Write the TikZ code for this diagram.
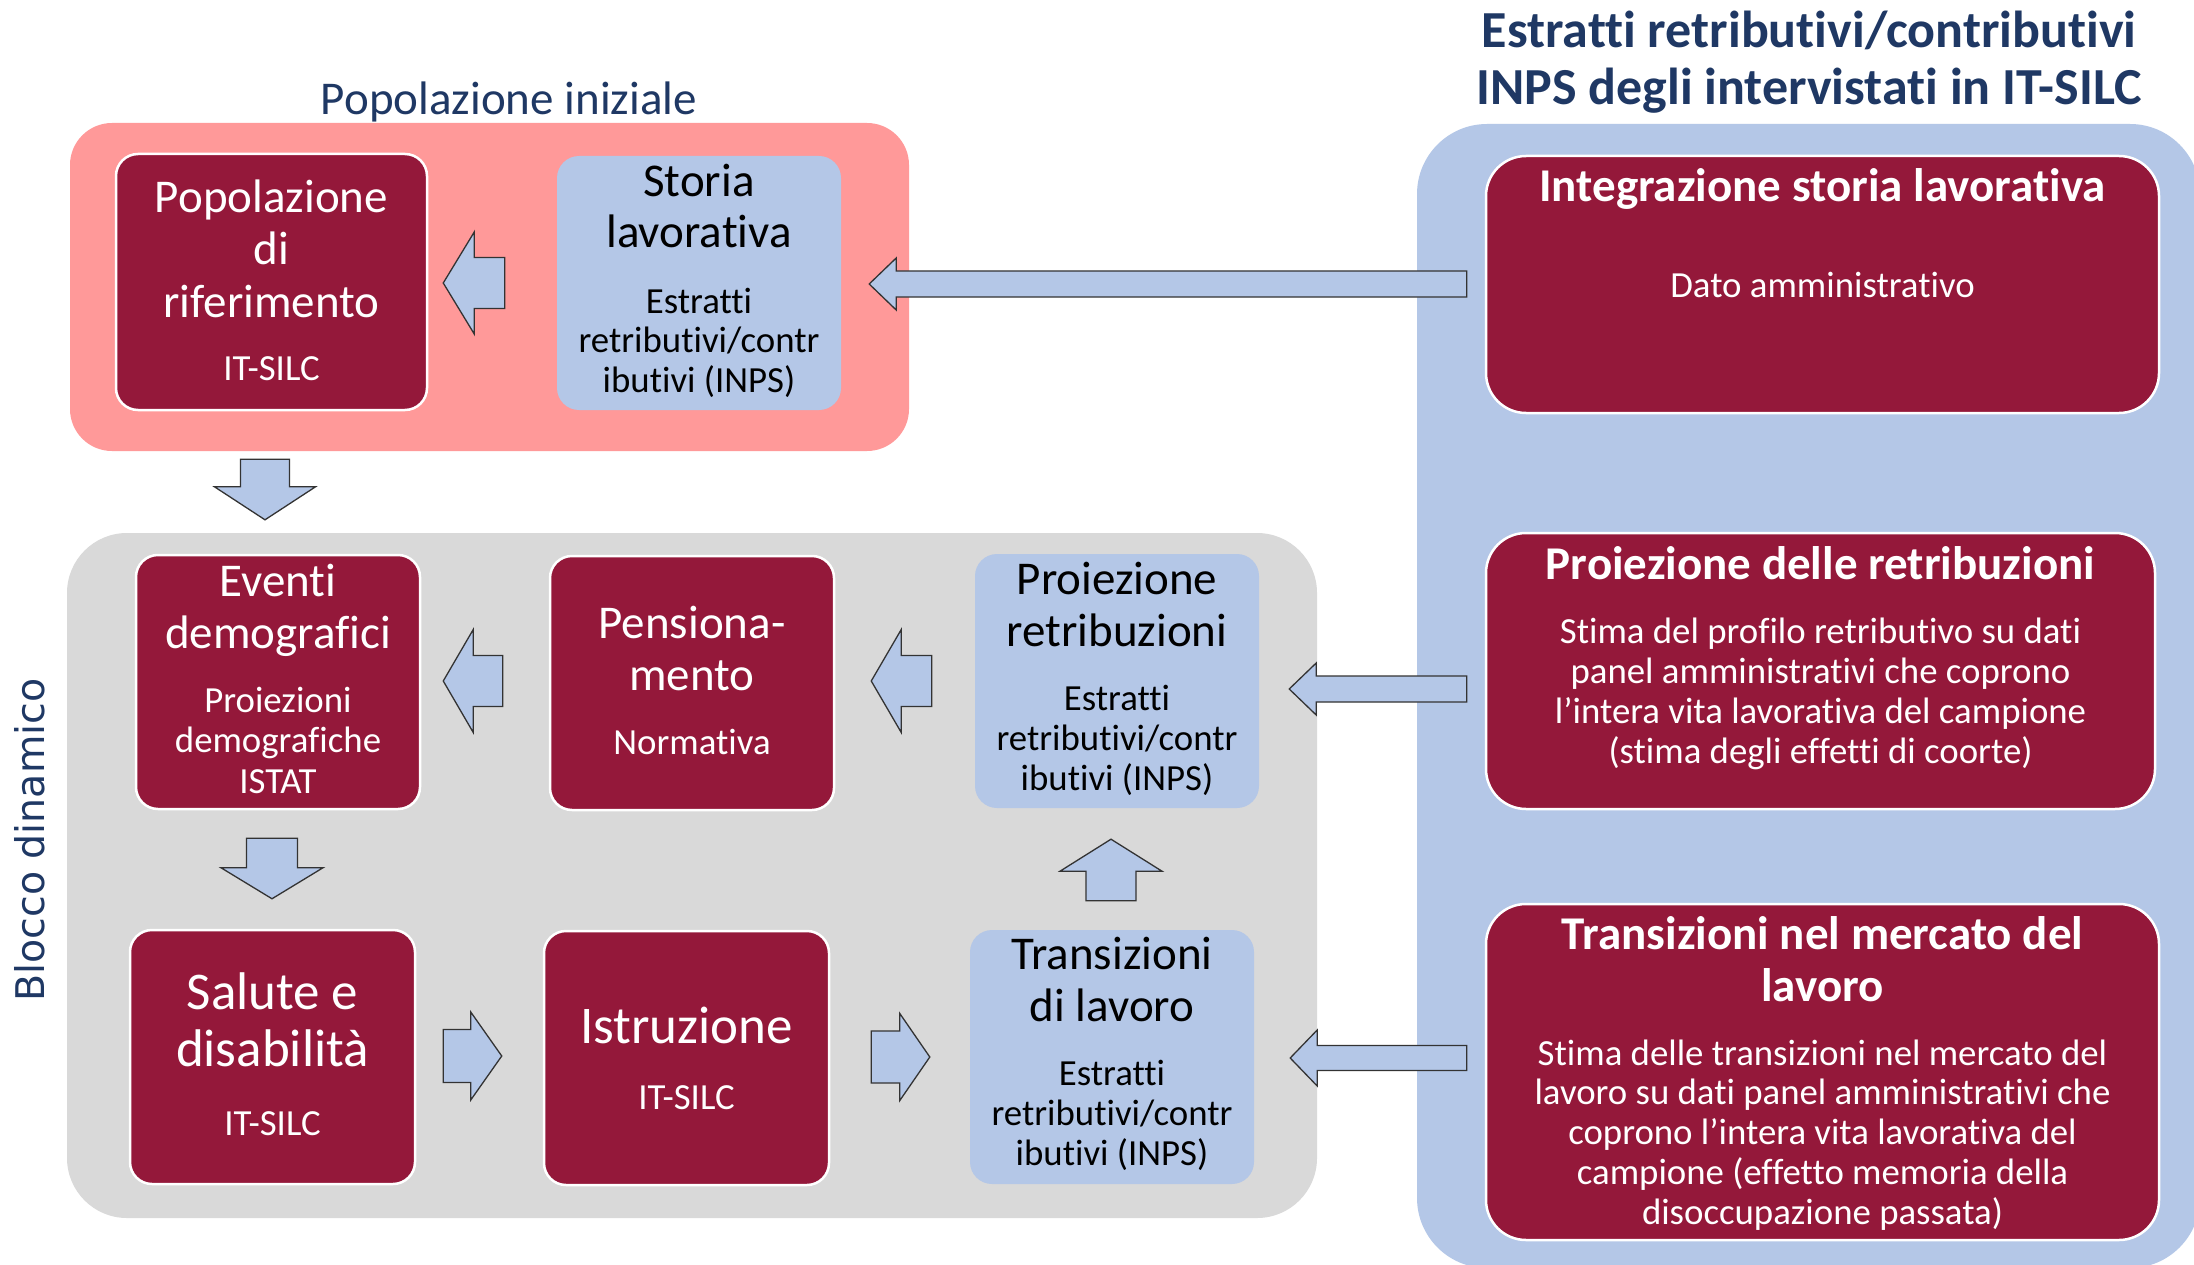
\documentclass[tikz,border=0pt]{standalone}
\usepackage{fontspec}
\setmainfont{Carlito}[Ligatures={NoCommon,NoRequired,NoContextual,NoRare},Contextuals={NoAlternate},RawFeature={-calt}]
\newfontfamily\dejavu{DejaVu Sans}
\usetikzlibrary{calc}
\definecolor{dred}{RGB}{148,24,58}
\definecolor{lblue}{RGB}{180,199,231}
\definecolor{pinkc}{RGB}{255,153,153}
\definecolor{grayc}{RGB}{217,217,217}
\definecolor{dblue}{RGB}{31,56,100}
% lines of text: name, x, first baseline, spacing, style, list
\newcommand\txtlines[6]{\foreach \t [count=\i] in {#6} {\node[#5, anchor=base, inner sep=0pt] (#1-\i) at (#2, {#3+(\i-1)*#4}) {\t};}}
% block arrow: name, tail, tip, shaft half, head half, head length
\newcommand\barrow[6]{%
  \coordinate (#1-t) at (#2);
  \coordinate (#1-p) at (#3);
  \coordinate (#1-h) at ($(#1-p)!#6!(#1-t)$);
  \draw[blockarrow] ($(#1-t)!#4!90:(#1-p)$) -- ($(#1-h)!#4!90:(#1-p)$) -- ($(#1-h)!#5!90:(#1-p)$) -- (#1-p) -- ($(#1-h)!#5!-90:(#1-p)$) -- ($(#1-h)!#4!-90:(#1-p)$) -- ($(#1-t)!#4!-90:(#1-p)$) -- cycle;}
\begin{document}
\begin{tikzpicture}[x=1pt,y=-1pt,
  panel/.style={draw=none, inner sep=0pt},
  redbox/.style={fill=dred, draw=white, line width=2.5pt, rounded corners=22pt, inner sep=0pt},
  bluebox/.style={fill=lblue, draw=none, rounded corners=22pt, inner sep=0pt},
  rbox/.style={fill=dred, draw=white, line width=2.5pt, rounded corners=40pt, inner sep=0pt},
  blockarrow/.style={fill=lblue, draw=black!80, line width=1.3pt, line join=miter},
  ftbig/.style={font=\fontsize{47}{52}\selectfont},
  fthuge/.style={font=\fontsize{53}{57}\selectfont},
  ftsmall/.style={font=\fontsize{36.8}{40}\selectfont},
  ftbold/.style={font=\bfseries\fontsize{47}{50}\selectfont},
  fttitle/.style={font=\bfseries\fontsize{52}{57}\selectfont, text=dblue},
  wt/.style={text=white}, bk/.style={text=black}]
\useasboundingbox (0,0) rectangle (2194,1265);
\clip (0,0) rectangle (2194,1265);
\fill[white] (0,0) rectangle (2194,1265);

% panels
\node[panel, fill=pinkc, minimum width=839pt, minimum height=328pt, rounded corners=42pt] (pink) at (489.5,287) {};
\node[panel, fill=grayc, minimum width=1250pt, minimum height=685pt, rounded corners=60pt] (gray) at (692,875.5) {};
\node[panel, fill=lblue, minimum width=783pt, minimum height=1144pt, rounded corners=70pt] (bluep) at (1808.5,696) {};

% titles
\node[font=\fontsize{47}{52}\selectfont, text=dblue, anchor=base, inner sep=0pt] (ttl-pop) at (509,115) {Popolazione iniziale};
\txtlines{ttl-inps}{1809}{48}{57}{fttitle}{Estratti retributivi/contributivi, INPS degli intervistati in IT-SILC}
\node[font=\dejavu\fontsize{39.5}{44}\selectfont, text=dblue, rotate=90, anchor=base, inner sep=0pt] (ttl-blocco) at (44,840) {Blocco dinamico};

% boxes
\node[redbox, minimum width=311pt, minimum height=256pt] (pop) at (271.5,282) {};
\node[bluebox, minimum width=284pt, minimum height=254pt] (storia) at (699,283) {};
\node[redbox, minimum width=284pt, minimum height=254pt] (ev) at (278,682) {};
\node[redbox, minimum width=284pt, minimum height=254pt] (pens) at (692,683) {};
\node[bluebox, minimum width=284pt, minimum height=254pt] (proj) at (1117,681) {};
\node[redbox, minimum width=285pt, minimum height=254pt] (sal) at (272.5,1057) {};
\node[redbox, minimum width=285pt, minimum height=254pt] (istr) at (686.5,1058) {};
\node[bluebox, minimum width=284pt, minimum height=254pt] (trans) at (1112,1057) {};
\node[rbox, minimum width=673pt, minimum height=257pt] (integ) at (1822.5,284.5) {};
\node[rbox, minimum width=669pt, minimum height=276pt] (rproj) at (1820.5,671) {};
\node[rbox, minimum width=673pt, minimum height=336pt] (rtrans) at (1822.5,1072) {};

% box texts
\txtlines{pop-a}{271.5}{213}{52}{ftbig,wt}{Popolazione, di, riferimento}
\txtlines{pop-b}{271.5}{380}{40}{ftsmall,wt}{IT-SILC}
\txtlines{storia-a}{699}{197}{51}{ftbig,bk}{Storia, lavorativa}
\txtlines{storia-b}{699}{313}{39.5}{ftsmall,bk}{Estratti, retributivi/contr, ibutivi (INPS)}
\txtlines{ev-a}{278}{596}{52}{ftbig,wt}{Eventi, demografici}
\txtlines{ev-b}{278}{712}{40.5}{ftsmall,wt}{Proiezioni, demografiche, ISTAT}
\txtlines{pens-a}{692}{638}{52}{ftbig,wt}{Pensiona-, mento}
\txtlines{pens-b}{692}{754}{40}{ftsmall,wt}{Normativa}
\txtlines{proj-a}{1117}{594}{52}{ftbig,bk}{Proiezione, retribuzioni}
\txtlines{proj-b}{1117}{710}{40}{ftsmall,bk}{Estratti, retributivi/contr, ibutivi (INPS)}
\txtlines{sal-a}{272.5}{1009}{57}{fthuge,wt}{Salute e, disabilità}
\txtlines{sal-b}{272.5}{1135}{40}{ftsmall,wt}{IT-SILC}
\txtlines{istr-a}{686.5}{1043}{57}{fthuge,wt}{Istruzione}
\txtlines{istr-b}{686.5}{1109}{40}{ftsmall,wt}{IT-SILC}
\txtlines{trans-a}{1112}{969}{52}{ftbig,bk}{Transizioni, di lavoro}
\txtlines{trans-b}{1112}{1085}{40}{ftsmall,bk}{Estratti, retributivi/contr, ibutivi (INPS)}
\txtlines{integ-a}{1822.5}{202}{50}{ftbold,wt}{Integrazione storia lavorativa}
\txtlines{integ-b}{1822.5}{298}{40}{ftsmall,wt}{Dato amministrativo}
\txtlines{rproj-a}{1820.5}{579}{50}{ftbold,wt}{Proiezione delle retribuzioni}
\txtlines{rproj-b}{1820.5}{643}{40}{ftsmall,wt}{Stima del profilo retributivo su dati, panel amministrativi che coprono, l’intera vita lavorativa del campione, {(stima degli effetti di coorte)}}
\txtlines{rtrans-a}{1822.5}{949}{52}{ftbold,wt}{Transizioni nel mercato del, lavoro}
\txtlines{rtrans-b}{1822.5}{1065}{39.8}{ftsmall,wt}{Stima delle transizioni nel mercato del, lavoro su dati panel amministrativi che, coprono l’intera vita lavorativa del, campione (effetto memoria della, disoccupazione passata)}

% block arrows
\barrow{a1}{$(storia.west)+(-52,0)$}{$(pop.east)+(15,1)$}{25.5pt}{51pt}{31pt}
\barrow{a2}{$(integ.west)+(-18,-0.5)$}{$(storia.east)+(28,1)$}{13pt}{26pt}{27pt}
\barrow{a3}{$(pop.south |- pink.south)+(-6.5,8)$}{$(pop.south |- gray.north)+(-6.5,-13)$}{24.5pt}{50.5pt}{33pt}
\barrow{a4}{$(pens.west)+(-46,-2)$}{$(ev.east)+(22,-1)$}{25.5pt}{51.5pt}{30pt}
\barrow{a5}{$(proj.west)+(-43,0)$}{$(pens.east)+(36,-2)$}{25.5pt}{51.5pt}{30pt}
\barrow{a6}{$(ev.south)+(-6,28)$}{$(sal.north)+(-0.5,-30)$}{25.5pt}{51pt}{31pt}
\barrow{a7}{$(trans.north)+(-1,-29)$}{$(proj.south)+(-6,31)$}{25pt}{51pt}{32pt}
\barrow{a8}{$(sal.east)+(27,-1)$}{$(istr.west)+(-41,-2)$}{26.5pt}{44pt}{31pt}
\barrow{a9}{$(istr.east)+(41,-1)$}{$(trans.west)+(-40,0)$}{26pt}{43.5pt}{30pt}
\barrow{a10}{$(rproj.west)+(-18,18)$}{$(proj.east)+(30,8)$}{13pt}{26pt}{27pt}
\barrow{a11}{$(rtrans.west)+(-18,-14)$}{$(trans.east)+(36,1)$}{12.5pt}{28pt}{27pt}
\end{tikzpicture}
\end{document}
